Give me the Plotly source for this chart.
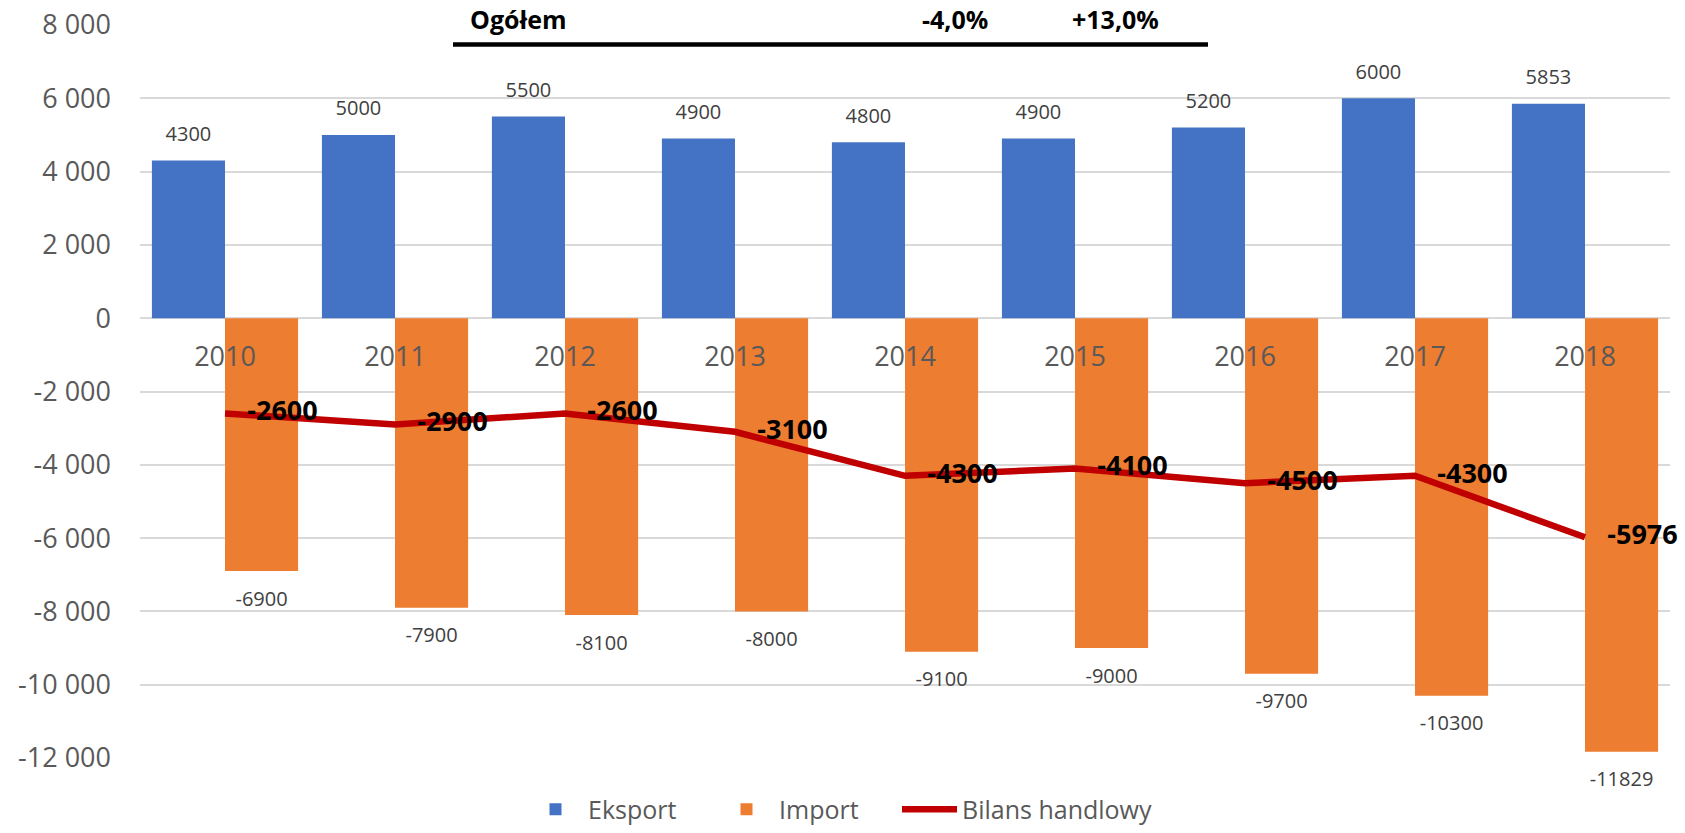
import plotly.graph_objects as go

# ---------------- data ----------------
years = ["2010", "2011", "2012", "2013", "2014", "2015", "2016", "2017", "2018"]
eksport = [4300, 5000, 5500, 4900, 4800, 4900, 5200, 6000, 5853]
import_ = [-6900, -7900, -8100, -8000, -9100, -9000, -9700, -10300, -11829]
bilans = [-2600, -2900, -2600, -3100, -4300, -4100, -4500, -4300, -5976]

y_tickvals = [8000, 6000, 4000, 2000, 0, -2000, -4000, -6000, -8000, -10000, -12000]
y_ticktext = ["8 000", "6 000", "4 000", "2 000", "0", "-2 000", "-4 000", "-6 000",
              "-8 000", "-10 000", "-12 000"]

header_label = "Ogółem"
header_values = ["-4,0%", "+13,0%"]

# ---------------- style ----------------
BLUE = "#4472C4"
ORANGE = "#ED7D31"
RED = "#C00000"
GRID = "#D9D9D9"
AXIS_TXT = "#595959"
LABEL_TXT = "#404040"
FONT = "Open Sans"

W, H = 1685, 833
ML, MR, MT, MB = 140, 15, 25, 75
BARGAP = 0.14

x = list(range(len(years)))
half = (1 - BARGAP) / 4.0  # offset of each grouped bar's centre from category centre
x_exp = [i - half for i in x]
x_imp = [i + half for i in x]

fig = go.Figure()

fig.add_trace(go.Bar(
    x=x, y=eksport, name="Eksport", marker=dict(color=BLUE, line=dict(width=0)),
    hoverinfo="skip", legend="legend",
))
fig.add_trace(go.Bar(
    x=x, y=import_, name="Import", marker=dict(color=ORANGE, line=dict(width=0)),
    hoverinfo="skip", legend="legend2",
))
fig.add_trace(go.Scatter(
    x=x, y=bilans, name="Bilans handlowy", mode="lines",
    line=dict(color=RED, width=6.5), hoverinfo="skip", legend="legend3",
))

# data labels
fig.add_trace(go.Scatter(
    x=x_exp, y=eksport, mode="markers+text", text=[str(v) for v in eksport],
    textposition="top center", marker=dict(size=22, opacity=0),
    textfont=dict(family=FONT, size=20, color=LABEL_TXT),
    showlegend=False, hoverinfo="skip", cliponaxis=False,
))
fig.add_trace(go.Scatter(
    x=x_imp, y=import_, mode="markers+text", text=[str(v) for v in import_],
    textposition="bottom center", marker=dict(size=30, opacity=0),
    textfont=dict(family=FONT, size=20, color=LABEL_TXT),
    showlegend=False, hoverinfo="skip", cliponaxis=False,
))
fig.add_trace(go.Scatter(
    x=x, y=bilans, mode="markers+text", text=[str(v) for v in bilans],
    textposition="middle right", marker=dict(size=34, opacity=0),
    textfont=dict(family=FONT, size=27, color="#000000", weight="bold"),
    showlegend=False, hoverinfo="skip", cliponaxis=False,
))

plot_w = W - ML - MR
plot_h = H - MT - MB


def px_x(p):
    return (p - ML) / plot_w


legend_y = -(832.5 - (H - MB)) / plot_h  # bottom edge of legend box just inside page


def legend_box(left_px):
    return dict(
        orientation="h", x=px_x(left_px), xanchor="left",
        y=legend_y, yanchor="bottom",
        font=dict(family=FONT, size=25, color=AXIS_TXT),
        itemwidth=55, bgcolor="rgba(0,0,0,0)",
    )


fig.update_layout(
    width=W, height=H, autosize=False,
    margin=dict(l=ML, r=MR, t=MT, b=MB, pad=0, autoexpand=False),
    paper_bgcolor="white", plot_bgcolor="white",
    barmode="group", bargap=BARGAP, bargroupgap=0,
    font=dict(family=FONT, color=AXIS_TXT),
    showlegend=True,
    legend=legend_box(523),
    legend2=legend_box(714),
    legend3=legend_box(897),
    xaxis=dict(
        range=[-0.5, len(years) - 0.5],
        tickmode="array", tickvals=x, ticktext=years,
        anchor="free", position=0.6,
        showgrid=False, zeroline=False, showline=False, ticks="",
        tickfont=dict(family=FONT, size=27, color=AXIS_TXT),
        ticklabelstandoff=20,
    ),
    yaxis=dict(
        range=[-12000, 8000],
        tickmode="array", tickvals=y_tickvals, ticktext=y_ticktext,
        showgrid=True, gridcolor=GRID, gridwidth=1.5,
        zeroline=True, zerolinecolor=GRID, zerolinewidth=1.5,
        showline=False, ticks="",
        tickfont=dict(family=FONT, size=27, color=AXIS_TXT),
        ticklabelstandoff=28,
    ),
)

# header box (covers top gridline) with black underline
fig.add_shape(
    type="rect", xref="paper", yref="paper",
    x0=px_x(453), x1=px_x(1208), ysizemode="pixel", yanchor=1, y0=-17, y1=30,
    fillcolor="white", line=dict(width=0), layer="above",
)
fig.add_shape(
    type="line", xref="paper", yref="paper",
    x0=px_x(453), x1=px_x(1208), ysizemode="pixel", yanchor=1, y0=-19.5, y1=-19.5,
    line=dict(color="black", width=4.5), layer="above",
)

fig.add_annotation(
    text=header_label, xref="paper", yref="paper", x=px_x(468), y=1,
    xanchor="left", yanchor="middle", yshift=6, showarrow=False,
    font=dict(family=FONT, size=25, color="black", weight="bold"),
)
for txt, cx in zip(header_values, [955, 1115]):
    fig.add_annotation(
        text=txt, xref="paper", yref="paper", x=px_x(cx), y=1,
        xanchor="center", yanchor="middle", yshift=6, showarrow=False,
        font=dict(family=FONT, size=25, color="black", weight="bold"),
    )

fig.write_html("out.html", config={"displayModeBar": False})
